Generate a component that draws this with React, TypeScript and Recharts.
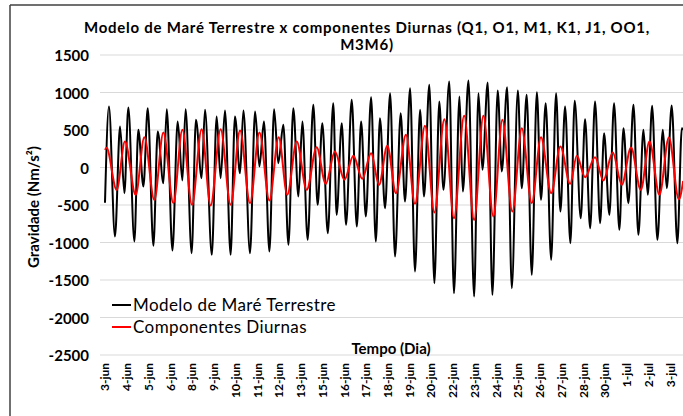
import React from "react";
import { LineChart, Line, XAxis, YAxis, CartesianGrid } from "recharts";

// Category labels shown on the x axis (evenly spaced, 3-jun .. 3-jul)
const xLabels = [
  "3-jun", "4-jun", "5-jun", "6-jun", "8-jun", "9-jun", "10-jun", "11-jun", "12-jun",
  "13-jun", "15-jun", "16-jun", "17-jun", "18-jun", "19-jun", "20-jun", "22-jun",
  "23-jun", "24-jun", "25-jun", "26-jun", "27-jun", "28-jun", "30-jun", "1-jul",
  "2-jul", "3-jul",
];
const SPAN_DAYS = 30;
const yTicks = [1500, 1000, 500, 0, -500, -1000, -1500, -2000, -2500];

// Modelo de Maré Terrestre: [day, value] read at turning points
const modeloT = [
  0.0, 0.21, 0.53, 0.8, 1.03, 1.24, 1.56, 1.77, 2.04, 2.27, 2.57, 2.8, 3.1, 3.28, 3.58, 3.86,
  4.11, 4.28, 4.6, 4.83, 5.13, 5.31, 5.67, 5.93, 6.14, 6.37, 6.67, 6.9, 7.17, 7.35, 7.7, 7.97,
  8.2, 8.44, 8.73, 8.98, 9.2, 9.47, 9.74, 10.0, 10.27, 10.48, 10.76, 11.06, 11.29, 11.54, 11.83,
  12.12, 12.3, 12.57, 12.8, 13.1, 13.37, 13.6, 13.85, 14.13, 14.38, 14.6, 14.87, 15.14, 15.4,
  15.7, 15.93, 16.2, 16.46, 16.73, 16.94, 17.22, 17.49, 17.75, 17.97, 18.28, 18.53, 18.82, 19.0,
  19.3, 19.6, 19.83, 20.04, 20.32, 20.57, 20.85, 21.07, 21.35, 21.6, 21.92, 22.13, 22.39, 22.66,
  22.93, 23.15, 23.4, 23.69, 23.95, 24.18, 24.43, 24.71, 24.94, 25.26, 25.49, 25.76, 26.02,
  26.29, 26.5, 26.78, 27.03, 27.31, 27.53, 27.79, 28.06, 28.32, 28.59, 28.82, 29.05, 29.33,
  29.62, 29.83, 30.09, 30.39, 30.63, 30.7,
];
const modeloV = [
  -470, 813, -920, 547, -342, 800, -987, 502, -253, 791, -1044, 480, -209, 778, -1107, 613,
  -173, 778, -1142, 636, -142, 769, -1164, 680, -142, 760, -1164, 680, -76, 760, -1142, 747,
  13, 613, -1120, 778, 58, 569, -1031, 791, -387, 613, -964, 836, -498, 591, -876,
  858, -631, 591, -764, 902, -787, 613, -653, 938, -987, 658, -542, 991, -1187,
  724, -453, 1058, -1387, 769, -387, 1102, -1542, 880, -298, 1147, -1676, 947, -320,
  1160, -1720, 991, -31, 1133, -1698, 1027, -53, 1071, -1609, 1027, -276, 969, -1431,
  1004, -431, 858, -1231, 991, -587, 813, -1009, 890, -676, 644, -809, 880,
  -742, 458, -631, 858, -831, 524, -476, 836, -898, 502, -364, 822, -964,
  502, -276, 827, -1009, 524, 500,
];

// Componentes Diurnas: [day, value] read at turning points
const diurnasT = [
  0.0, 0.08, 0.62, 1.06, 1.63, 2.09, 2.62, 3.1, 3.63, 4.11, 4.62, 5.13, 5.61, 6.14, 6.67, 7.17,
  7.7, 8.2, 8.73, 9.22, 9.68, 10.18, 10.71, 11.24, 11.72, 12.21, 12.71, 13.19, 13.66, 14.13,
  14.55, 14.99, 15.45, 15.98, 16.46, 16.99, 17.49, 18.02, 18.53, 19.07, 19.6, 20.09, 20.62,
  21.1, 21.63, 22.13, 22.66, 23.15, 23.69, 24.18, 24.7, 25.05, 25.49, 26.02, 26.46, 26.96,
  27.44, 27.93, 28.45, 28.91, 29.44, 29.94, 30.47, 30.7,
];
const diurnasV = [
  235, 262, -298, 347, -364, 404, -431, 467, -476, 502, -498, 511, -507, 511, -498, 493,
  -476, 467, -440, 404, -364, 347, -298, 271, -218, 213, -164, 156, -151, 191,
  -231, 289, -342, 436, -484, 556, -600, 644, -676, 689, -698, 689, -653,
  636, -587, 524, -476, 404, -342, 280, -218, 156, -129, 138, -173, 200,
  -231, 267, -298, 347, -364, 400, -422, -180,
];

const modeloData = modeloT.map((t, i) => ({ t, v: modeloV[i] }));
const diurnasData = diurnasT.map((t, i) => ({ t, v: diurnasV[i] }));
const xTickPos = xLabels.map((_, i) => (i * SPAN_DAYS) / (xLabels.length - 1));

const FONT = "Lato, 'Open Sans', sans-serif";

const XTick = (props: any) => {
  const { x, payload, index } = props;
  const i = typeof index === "number" ? index : Math.round((payload.value * (xLabels.length - 1)) / SPAN_DAYS);
  const y0 = 363;
  return (
    <text
      x={x}
      y={y0}
      transform={`rotate(-90 ${x} ${y0})`}
      textAnchor="end"
      dominantBaseline="central"
      fontFamily={FONT}
      fontWeight={700}
      fontSize={12}
      fill="#000"
    >
      {xLabels[i]}
    </text>
  );
};

const YTick = (props: any) => {
  const { y, payload } = props;
  return (
    <text x={89} y={y} textAnchor="end" dominantBaseline="central" fontFamily={FONT} fontWeight={700} fontSize={15} fill="#000">
      {payload.value}
    </text>
  );
};

export default function App() {
  return (
    <div style={{ position: "absolute", left: 0, top: 0, width: 683, height: 416, background: "#fff", overflow: "hidden" }}>
      <LineChart width={683} height={416} margin={{ top: 55, right: 0, bottom: 0, left: 0 }}>
        <CartesianGrid vertical={false} stroke="#d9d9d9" strokeWidth={1} />
        <XAxis
          dataKey="t"
          type="number"
          domain={[-0.265, 30.69]}
          ticks={xTickPos}
          interval={0}
          tick={<XTick />}
          axisLine={false}
          tickLine={false}
          height={61}
          allowDataOverflow
        />
        <YAxis
          type="number"
          domain={[-2500, 1500]}
          ticks={yTicks}
          interval={0}
          width={100}
          tick={<YTick />}
          axisLine={false}
          tickLine={false}
          allowDataOverflow
        />
        <Line data={modeloData} dataKey="v" type="monotone" stroke="#000" strokeWidth={2} dot={false} isAnimationActive={false} name="Modelo de Maré Terrestre" />
        <Line data={diurnasData} dataKey="v" type="monotone" stroke="#ff0000" strokeWidth={2} dot={false} isAnimationActive={false} name="Componentes Diurnas" />
      </LineChart>
      <svg width={683} height={416} style={{ position: "absolute", left: 0, top: 0, pointerEvents: "none" }}>
        <line x1={10} y1={5} x2={683} y2={5} stroke="#404040" strokeWidth={1.5} />
        <line x1={10} y1={5} x2={10} y2={416} stroke="#404040" strokeWidth={1.5} />
        <text x={367} y={27} textAnchor="middle" dominantBaseline="central" fontFamily={FONT} fontWeight={700} fontSize={15} letterSpacing={0.75} fill="#000">
          Modelo de Maré Terrestre x componentes Diurnas (Q1, O1, M1, K1, J1, OO1,
        </text>
        <text x={367} y={44} textAnchor="middle" dominantBaseline="central" fontFamily={FONT} fontWeight={700} fontSize={15} letterSpacing={0.75} fill="#000">
          M3M6)
        </text>
        <text
          x={33}
          y={207}
          transform="rotate(-90 33 207)"
          textAnchor="middle"
          dominantBaseline="central"
          fontFamily={FONT}
          fontWeight={700}
          fontSize={15}
          fill="#000"
        >
          Gravidade (Nm/s²)
        </text>
        <line x1={112} y1={305} x2={131} y2={305} stroke="#000" strokeWidth={2} />
        <text x={133} y={304} dominantBaseline="central" fontFamily={FONT} fontSize={17} letterSpacing={0.4} fill="#000">
          Modelo de Maré Terrestre
        </text>
        <line x1={112} y1={327} x2={131} y2={327} stroke="#ff0000" strokeWidth={2} />
        <text x={133} y={326} dominantBaseline="central" fontFamily={FONT} fontSize={17} letterSpacing={0.4} fill="#000">
          Componentes Diurnas
        </text>
        <text x={391} y={348} textAnchor="middle" dominantBaseline="central" fontFamily={FONT} fontWeight={700} fontSize={15} fill="#000">
          Tempo (Dia)
        </text>
      </svg>
    </div>
  );
}
